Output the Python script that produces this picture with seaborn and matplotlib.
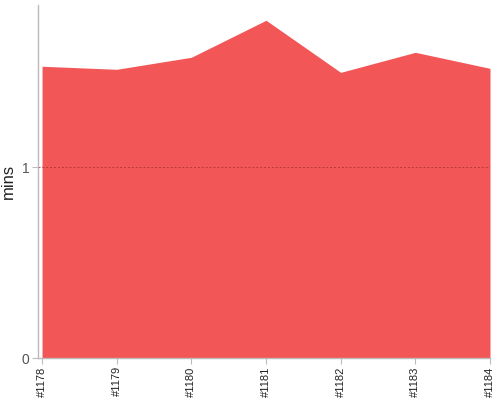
import matplotlib
matplotlib.use("Agg")
import matplotlib.pyplot as plt
import seaborn as sns
import pandas as pd

# Data
builds = ["#1178", "#1179", "#1180", "#1181", "#1182", "#1183", "#1184"]
mins = [1.529, 1.513, 1.576, 1.770, 1.497, 1.602, 1.518]
y_ticks = [0, 1]

df = pd.DataFrame({"build": builds, "mins": mins})
df["pos"] = range(len(builds))

sns.set_style("white")
plt.rcParams['font.family'] = ['Liberation Sans', 'DejaVu Sans']

fig = plt.figure(figsize=(5, 4), dpi=100)
ax = fig.add_axes([0.076, 0.105, 0.904, 0.8825])

# Area chart
sns.lineplot(x="pos", y="mins", data=df, ax=ax, color="#f25656", linewidth=0)
ax.fill_between(df["pos"], df["mins"], 0, color="#f25656", linewidth=0)

# dotted line at 1
ax.axhline(1, color="#b83a3a", linestyle=(0, (2, 2)), linewidth=0.7)

ax.set_xlim(-0.054, len(builds) - 1)
ax.set_ylim(0, 1.85)
ax.set_xticks(df["pos"])
ax.set_xticklabels(builds, rotation=90, fontsize=8, color="#222222")
ax.set_yticks(y_ticks)
ax.set_yticklabels([str(t) for t in y_ticks], fontsize=10, color="#555555")
ax.set_xlabel("")
ax.set_ylabel("mins", fontsize=12, color="#222222")

for side in ["top", "right"]:
    ax.spines[side].set_visible(False)
for side in ["left", "bottom"]:
    ax.spines[side].set_color("#bbbbbb")
    ax.spines[side].set_linewidth(1)
ax.tick_params(axis="both", which="both", length=4, width=0.8, color="#bbbbbb", pad=2,
               left=True, bottom=True)

fig.savefig("out.png", dpi=100)
